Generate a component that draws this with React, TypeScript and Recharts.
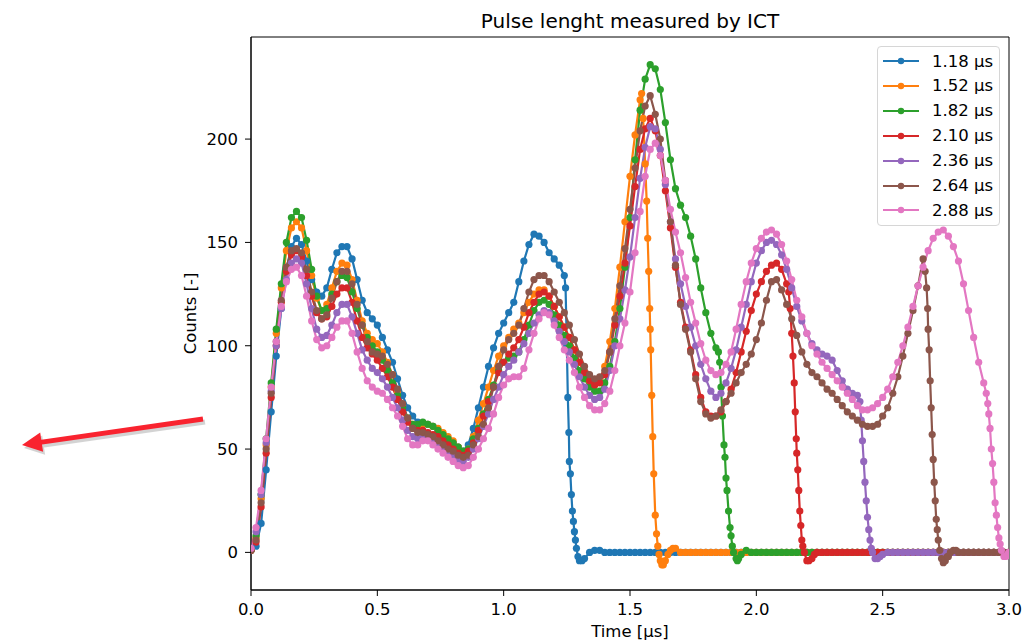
import React from 'react';
import { LineChart, Line, XAxis, YAxis, ReferenceArea } from 'recharts';

// time grid [µs], 0.02 µs step
const times = [
  0, 0.02, 0.04, 0.06, 0.08, 0.1, 0.12, 0.14, 0.16, 0.18,
  0.2, 0.22, 0.24, 0.26, 0.28, 0.3, 0.32, 0.34, 0.36, 0.38,
  0.4, 0.42, 0.44, 0.46, 0.48, 0.5, 0.52, 0.54, 0.56, 0.58,
  0.6, 0.62, 0.64, 0.66, 0.68, 0.7, 0.72, 0.74, 0.76, 0.78,
  0.8, 0.82, 0.84, 0.86, 0.88, 0.9, 0.92, 0.94, 0.96, 0.98,
  1.0, 1.02, 1.04, 1.06, 1.08, 1.1, 1.12, 1.14, 1.16, 1.18,
  1.2, 1.22, 1.24, 1.26, 1.28, 1.3, 1.32, 1.34, 1.36, 1.38,
  1.4, 1.42, 1.44, 1.46, 1.48, 1.5, 1.52, 1.54, 1.56, 1.58,
  1.6, 1.62, 1.64, 1.66, 1.68, 1.7, 1.72, 1.74, 1.76, 1.78,
  1.8, 1.82, 1.84, 1.86, 1.88, 1.9, 1.92, 1.94, 1.96, 1.98,
  2.0, 2.02, 2.04, 2.06, 2.08, 2.1, 2.12, 2.14, 2.16, 2.18,
  2.2, 2.22, 2.24, 2.26, 2.28, 2.3, 2.32, 2.34, 2.36, 2.38,
  2.4, 2.42, 2.44, 2.46, 2.48, 2.5, 2.52, 2.54, 2.56, 2.58,
  2.6, 2.62, 2.64, 2.66, 2.68, 2.7, 2.72, 2.74, 2.76, 2.78,
  2.8, 2.82, 2.84, 2.86, 2.88, 2.9, 2.92, 2.94, 2.96, 2.98,
  3.0,
];

const c118 = [
  1, 3, 14, 40, 68, 95, 118, 137, 148, 152,
  149, 141, 132, 126, 124, 128, 137, 145, 148, 148,
  142, 132, 122, 116, 113, 110, 104, 98, 92, 84,
  76, 70, 66, 63, 62, 62, 61, 59, 57, 55,
  53, 51, 49, 52, 60, 70, 80, 90, 99, 106,
  111, 116, 121, 131, 141, 149, 154, 153, 150, 145,
  142, 139, 134, 44, 10, -4, -3, 0, 1, 1,
  0, 0, 0, 0, 0, 0, 0, 0, 0, 0,
  0, 0, 0, 0, 0, 0, 0, 0, 0, 0,
  0, 0, 0, 0, 0, 0, 0, 0, 0, 0,
  0, 0, 0, 0, 0, 0, 0, 0, 0, 0,
  0, 0, 0, 0, 0, 0, 0, 0, 0, 0,
  0, 0, 0, 0, 0, 0, 0, 0, 0, 0,
  0, 0, 0, 0, 0, 0, 0, 0, 0, 0,
  0, 0, 0, 0, 0, 0, 0, 0, 0, 0,
  0,
];
const c152 = [
  1, 7, 26, 52, 80, 106, 128, 146, 157, 160,
  157, 146, 134, 123, 117, 120, 128, 136, 140, 139,
  132, 122, 112, 106, 103, 101, 97, 92, 86, 78,
  71, 65, 62, 61, 62, 62, 61, 60, 58, 56,
  54, 51, 48, 50, 56, 64, 72, 80, 88, 95,
  100, 104, 108, 111, 116, 121, 125, 127, 127, 124,
  119, 114, 109, 104, 98, 92, 87, 83, 81, 83,
  90, 102, 118, 138, 160, 182, 202, 219, 188, 108,
  18, -4, -4, 1, 2, 0, 0, 0, 0, 0,
  0, 0, 0, 0, 0, 0, 0, 0, 0, 0,
  0, 0, 0, 0, 0, 0, 0, 0, 0, 0,
  0, 0, 0, 0, 0, 0, 0, 0, 0, 0,
  0, 0, 0, 0, 0, 0, 0, 0, 0, 0,
  0, 0, 0, 0, 0, 0, 0, 0, 0, 0,
  0, 0, 0, 0, 0, 0, 0, 0, 0, 0,
  0,
];
const c182 = [
  1, 8, 28, 55, 82, 108, 130, 150, 162, 165,
  162, 151, 137, 124, 117, 118, 125, 131, 134, 133,
  126, 118, 110, 104, 100, 97, 93, 88, 82, 76,
  70, 65, 62, 62, 63, 62, 61, 59, 57, 55,
  53, 51, 49, 50, 55, 60, 67, 74, 81, 88,
  92, 94, 95, 97, 103, 110, 117, 121, 122, 120,
  115, 110, 105, 100, 94, 88, 84, 80, 78, 78,
  82, 90, 102, 118, 138, 162, 190, 214, 229, 236,
  234, 224, 208, 190, 176, 168, 162, 153, 142, 128,
  116, 106, 99, 80, 36, 8, -3, -1, 1, 0,
  0, 0, 0, 0, 0, 0, 0, 0, 0, 0,
  0, 0, 0, 0, 0, 0, 0, 0, 0, 0,
  0, 0, 0, 0, 0, 0, 0, 0, 0, 0,
  0, 0, 0, 0, 0, 0, 0, 0, 0, 0,
  0, 0, 0, 0, 0, 0, 0, 0, 0, 0,
  0,
];
const c210 = [
  1, 5, 22, 48, 75, 100, 121, 136, 144, 146,
  143, 134, 124, 116, 113, 114, 119, 125, 128, 128,
  121, 112, 104, 99, 96, 93, 89, 85, 80, 74,
  68, 63, 60, 59, 59, 58, 57, 56, 54, 52,
  50, 48, 47, 49, 53, 59, 66, 73, 80, 87,
  92, 96, 99, 103, 109, 116, 121, 125, 126, 124,
  119, 114, 109, 104, 98, 92, 87, 83, 81, 82,
  86, 97, 110, 124, 140, 158, 177, 195, 205, 210,
  204, 192, 175, 157, 138, 121, 109, 98, 86, 75,
  68, 66, 66, 68, 73, 79, 87, 97, 107, 117,
  125, 131, 136, 139, 140, 137, 130, 106, 48, 6,
  -4, -3, 0, 0, 0, 0, 0, 0, 0, 0,
  0, 0, 0, 0, 0, 0, 0, 0, 0, 0,
  0, 0, 0, 0, 0, 0, 0, 0, 0, 0,
  0, 0, 0, 0, 0, 0, 0, 0, 0, 0,
  0,
];
const c236 = [
  2, 10, 28, 53, 78, 100, 118, 132, 140, 142,
  140, 130, 118, 108, 104, 105, 110, 116, 120, 120,
  114, 106, 98, 93, 89, 87, 84, 80, 75, 70,
  64, 59, 56, 55, 56, 56, 55, 53, 51, 49,
  47, 45, 44, 46, 50, 55, 61, 67, 74, 80,
  86, 90, 93, 97, 101, 106, 111, 115, 117, 116,
  112, 107, 102, 97, 91, 85, 80, 76, 74, 75,
  79, 88, 100, 113, 127, 143, 162, 181, 196, 206,
  205, 195, 178, 160, 142, 130, 119, 109, 100, 91,
  84, 78, 75, 77, 82, 89, 98, 109, 120, 131,
  140, 146, 150, 151, 149, 144, 137, 128, 119, 112,
  106, 101, 98, 96, 95, 93, 88, 83, 79, 77,
  76, 54, 17, 0, -3, -1, 0, 0, 0, 0,
  0, 0, 0, 0, 0, 0, 0, 0, 0, 0,
  0, 0, 0, 0, 0, 0, 0, 0, 0, 0,
  0,
];
const c264 = [
  1, 6, 24, 50, 77, 102, 122, 138, 146, 147,
  145, 137, 126, 117, 113, 115, 123, 131, 136, 136,
  130, 120, 110, 102, 97, 96, 95, 91, 86, 79,
  72, 65, 60, 58, 58, 57, 56, 54, 52, 50,
  49, 47, 46, 47, 52, 56, 62, 70, 80, 90,
  98, 103, 106, 110, 118, 126, 132, 134, 134, 131,
  126, 121, 116, 110, 103, 96, 90, 86, 84, 85,
  88, 97, 113, 129, 147, 166, 186, 204, 216, 221,
  212, 200, 180, 160, 139, 120, 108, 97, 84, 73,
  67, 65, 66, 69, 73, 77, 82, 87, 91, 96,
  103, 111, 122, 131, 132, 127, 120, 113, 105, 97,
  91, 87, 85, 82, 79, 77, 74, 71, 68, 66,
  64, 62, 61, 61, 62, 66, 70, 77, 85, 95,
  106, 117, 129, 142, 108, 45, 6, -5, -2, 1,
  0, 0, 0, 0, 0, 0, 0, 0, 0, 0,
  0,
];
const c288 = [
  2, 12, 30, 55, 80, 102, 119, 131, 137, 138,
  134, 124, 112, 103, 99, 100, 104, 109, 112, 112,
  106, 97, 89, 83, 80, 78, 77, 74, 70, 66,
  61, 55, 52, 52, 54, 54, 52, 50, 48, 46,
  44, 42, 41, 42, 46, 50, 55, 60, 67, 75,
  81, 84, 85, 85, 89, 98, 106, 113, 116, 115,
  110, 104, 98, 93, 87, 80, 75, 71, 69, 69,
  72, 78, 88, 100, 111, 126, 145, 165, 182, 195,
  198, 192, 180, 166, 155, 145, 133, 121, 111, 101,
  93, 88, 86, 87, 91, 97, 108, 120, 131, 140,
  147, 152, 155, 156, 154, 149, 141, 132, 122, 114,
  106, 100, 96, 92, 89, 86, 83, 80, 77, 74,
  71, 69, 69, 70, 72, 75, 79, 85, 92, 100,
  109, 119, 129, 138, 146, 152, 155, 156, 153, 148,
  141, 130, 117, 104, 92, 82, 67, 34, 7, -2,
  0,
];

// extra samples read on the steep falling edges [t, counts]
const e118: [number, number][] = [
  [1.245, 128], [1.25, 100], [1.254, 75], [1.258, 58], [1.264, 38], [1.268, 28],
  [1.272, 20], [1.276, 15], [1.284, 6], [1.288, 2], [1.294, -2], [1.31, -4],
];
const e152: [number, number][] = [
  [1.546, 222], [1.552, 210], [1.566, 170], [1.57, 152], [1.574, 136], [1.578, 118],
  [1.582, 98], [1.586, 76], [1.59, 56], [1.594, 38], [1.605, 9], [1.61, 3],
  [1.615, -1], [1.626, -6], [1.632, -6], [1.65, -1], [1.67, 2],
];
const e182: [number, number][] = [
  [1.85, 97], [1.855, 92], [1.866, 66], [1.872, 52], [1.876, 46], [1.884, 30],
  [1.89, 20], [1.896, 12], [1.905, 3], [1.91, 0], [1.925, -4], [1.93, -3],
];
const e210: [number, number][] = [
  [2.128, 126], [2.134, 118], [2.145, 95], [2.15, 82], [2.154, 68], [2.158, 55],
  [2.164, 40], [2.168, 30], [2.172, 20], [2.176, 13], [2.184, 3], [2.19, 0],
  [2.208, -4], [2.23, -1],
];
const e236: [number, number][] = [
  [2.41, 73], [2.415, 64], [2.425, 44], [2.43, 34], [2.435, 25], [2.445, 11],
  [2.45, 6], [2.455, 2], [2.47, -3], [2.49, -2],
];
const e264: [number, number][] = [
  [2.668, 136], [2.674, 128], [2.678, 118], [2.684, 98], [2.688, 83], [2.692, 70],
  [2.696, 57], [2.704, 34], [2.708, 25], [2.712, 16], [2.716, 11], [2.726, 1],
  [2.733, -3], [2.748, -4], [2.756, -2], [2.768, 0], [2.79, 1],
];
const e288: [number, number][] = [
  [2.91, 77], [2.916, 72], [2.925, 60], [2.93, 50], [2.935, 43], [2.945, 24],
  [2.95, 18], [2.955, 12], [2.965, 4], [2.97, 1], [2.988, -2], [2.994, -1],
];

const labels = ['1.18 µs', '1.52 µs', '1.82 µs', '2.10 µs', '2.36 µs', '2.64 µs', '2.88 µs'];
const colors = ['#1f77b4', '#ff7f0e', '#2ca02c', '#d62728', '#9467bd', '#8c564b', '#e377c2'];
const xTicks = [0, 0.5, 1.0, 1.5, 2.0, 2.5, 3.0];
const yTicks = [0, 50, 100, 150, 200];

const build = (vals: number[], extra: [number, number][]) =>
  [
    ...times.map((t, i) => ({ t, v: vals[i] })),
    ...extra.map(([t, v]) => ({ t, v })),
  ].sort((a, b) => a.t - b.t);

const series = [
  build(c118, e118),
  build(c152, e152),
  build(c182, e182),
  build(c210, e210),
  build(c236, e236),
  build(c264, e264),
  build(c288, e288),
];

const font = '"DejaVu Sans", sans-serif';
const tickStyle = { fill: '#000', fontSize: 16.5, fontFamily: font };

const LegendBox = () => (
  <div
    style={{
      position: 'absolute',
      left: 877,
      top: 46,
      width: 121,
      height: 178,
      border: '1px solid #d6d6d6',
      borderRadius: 4,
      background: 'rgba(255,255,255,0.8)',
      fontFamily: font,
      fontSize: 16.5,
    }}
  >
    {labels.map((l, i) => (
      <div
        key={l}
        style={{ position: 'absolute', left: 4, top: 2 + i * 24.9, height: 24, display: 'flex', alignItems: 'center' }}
      >
        <svg width={38} height={10}>
          <line x1={1} y1={5} x2={37} y2={5} stroke={colors[i]} strokeWidth={2.2} />
          <circle cx={19} cy={5} r={3.2} fill={colors[i]} />
        </svg>
        <span style={{ marginLeft: 12, color: '#000', whiteSpace: 'nowrap' }}>{l}</span>
      </div>
    ))}
  </div>
);

const App = () => {
  return (
    <div style={{ position: 'absolute', left: 0, top: 0, width: 1032, height: 644, background: '#fff' }}>
      <LineChart width={1032} height={644} margin={{ top: 37, right: 23, bottom: 0, left: 0 }}>
        <XAxis
          type="number"
          dataKey="t"
          domain={[0, 3]}
          ticks={xTicks}
          allowDataOverflow
          tickFormatter={(v: number) => v.toFixed(1)}
          tick={tickStyle}
          tickSize={6}
          tickMargin={7}
          height={54}
          stroke="#000"
          axisLine={{ stroke: '#000' }}
          tickLine={{ stroke: '#000' }}
        />
        <YAxis
          type="number"
          domain={[-18.2, 249.4]}
          ticks={yTicks}
          allowDataOverflow
          tick={tickStyle}
          tickSize={6}
          tickMargin={7}
          width={251}
          stroke="#000"
          axisLine={{ stroke: '#000' }}
          tickLine={{ stroke: '#000' }}
        />
        {series.map((d, i) => (
          <Line
            key={labels[i]}
            data={d}
            dataKey="v"
            type="linear"
            stroke={colors[i]}
            strokeWidth={2.2}
            dot={{ r: 3.6, fill: colors[i], stroke: 'none', strokeWidth: 0 }}
            activeDot={false}
            isAnimationActive={false}
          />
        ))}
        <ReferenceArea
          x1={0}
          x2={3}
          y1={-18.2}
          y2={249.4}
          fill="none"
          stroke="#000"
          strokeWidth={1}
          fillOpacity={0}
          ifOverflow="visible"
        />
      </LineChart>
      <svg
        width={1032}
        height={644}
        style={{ position: 'absolute', left: 0, top: 0, pointerEvents: 'none' }}
      >
        <text x={630} y={28} textAnchor="middle" fontSize={20} fontFamily={font} fill="#000">
          Pulse lenght measured by ICT
        </text>
        <text x={630} y={637} textAnchor="middle" fontSize={16.5} fontFamily={font} fill="#000">
          Time [µs]
        </text>
        <text
          x={0}
          y={0}
          transform="translate(196 313.5) rotate(-90)"
          textAnchor="middle"
          fontSize={16.5}
          fontFamily={font}
          fill="#000"
        >
          Counts [-]
        </text>
        <g opacity={0.25} transform="translate(2 3)">
          <line x1={203} y1={419} x2={40} y2={442.4} stroke="#555" strokeWidth={5} />
          <polygon points="22,445 43.1,451.8 40.2,432.6" fill="#555" />
        </g>
        <line x1={203} y1={419} x2={40} y2={442.4} stroke="#f9232f" strokeWidth={5} />
        <polygon points="22,445 43.1,451.8 40.2,432.6" fill="#f9232f" />
      </svg>
      <LegendBox />
    </div>
  );
};

export default App;
